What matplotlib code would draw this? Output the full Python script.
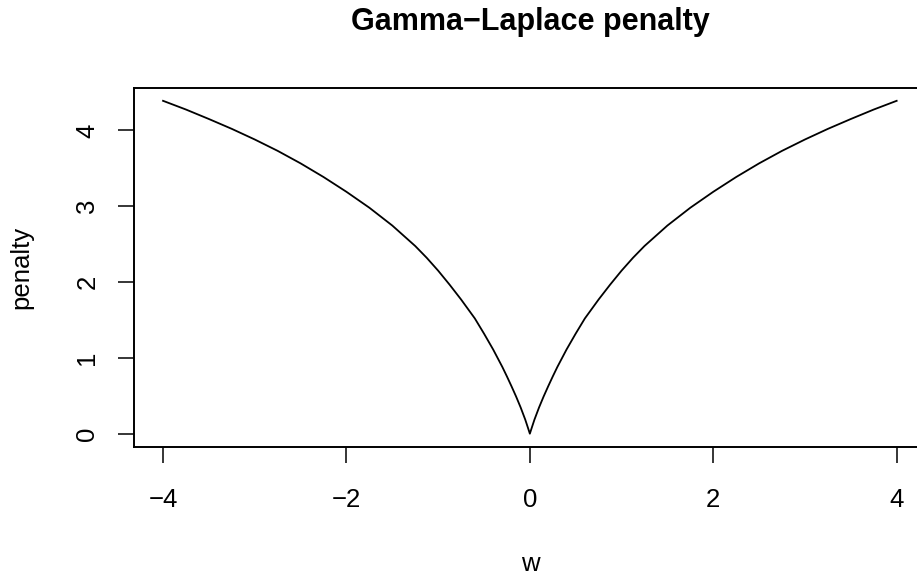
import matplotlib
matplotlib.use("Agg")
import matplotlib.pyplot as plt

# values
w_left = [-4.0, -3.75, -3.5, -3.25, -3.0, -2.75, -2.5, -2.25, -2.0, -1.75, -1.5, -1.25,
          -1.125, -1.0, -0.875, -0.75, -0.6, -0.5, -0.4, -0.3, -0.25, -0.2, -0.15,
          -0.1, -0.05, -0.02, 0.0]
pen_left = [4.39, 4.275, 4.15, 4.02, 3.88, 3.73, 3.565, 3.385, 3.19, 2.98, 2.745, 2.475,
            2.32, 2.15, 1.965, 1.77, 1.52, 1.32, 1.11, 0.88, 0.755, 0.625, 0.49,
            0.345, 0.185, 0.075, 0.0]
w_right = [0.0, 0.02, 0.05, 0.1, 0.15, 0.2, 0.25, 0.3, 0.4, 0.5, 0.6, 0.75, 0.875,
           1.0, 1.125, 1.25, 1.5, 1.75, 2.0, 2.25, 2.5, 2.75, 3.0, 3.25, 3.5, 3.75, 4.0]
pen_right = [0.0, 0.075, 0.185, 0.345, 0.49, 0.625, 0.755, 0.88, 1.11, 1.32, 1.52, 1.77, 1.965,
             2.15, 2.32, 2.475, 2.745, 2.98, 3.19, 3.385, 3.565, 3.73, 3.88, 4.02, 4.15, 4.275, 4.39]

x_ticks = [-4, -2, 0, 2, 4]
y_ticks = [0, 1, 2, 3, 4]

plt.rcParams["font.family"] = ["Liberation Sans", "DejaVu Sans"]

W, H = 917, 575
fig = plt.figure(figsize=(W / 100, H / 100), dpi=100)
# axes box placed like the R plot region (right edge runs off the image)
ax = fig.add_axes([133.7 / W, 1 - 447 / H, (926 - 133.7) / W, (447 - 87.5) / H])

ws = w_left + w_right[1:]
ps = pen_left + pen_right[1:]
ax.plot(ws, ps, color="black", lw=1.3, solid_joinstyle="round")

# R style 4% padding
xr = max(ws) - min(ws)
yr = max(ps) - min(ps)
ax.set_xlim(min(ws) - 0.04 * xr, max(ws) + 0.04 * xr)
ax.set_ylim(min(ps) - 0.04 * yr, max(ps) + 0.04 * yr)

ax.set_xticks(x_ticks)
ax.set_yticks(y_ticks)
ax.tick_params(axis="both", direction="out", length=11.3, width=1.1, labelsize=18.5, color="black")
ax.tick_params(axis="x", pad=18)
ax.tick_params(axis="y", pad=13.4)
plt.setp(ax.get_yticklabels(), rotation=90, va="center")

for s in ax.spines.values():
    s.set_linewidth(1.4)

ax.set_xlabel("w", fontsize=18.5)
ax.xaxis.set_label_coords(530 / W, 1 - 552 / H, transform=fig.transFigure)
ax.set_ylabel("penalty", fontsize=18.5)
ax.yaxis.set_label_coords(33.4 / W, 1 - 267 / H, transform=fig.transFigure)

fig.text(530 / W, 1 - 30 / H, "Gamma\u2212Laplace penalty", ha="center", va="baseline",
         fontsize=22, fontweight="bold")

fig.savefig("out.png", dpi=100)
